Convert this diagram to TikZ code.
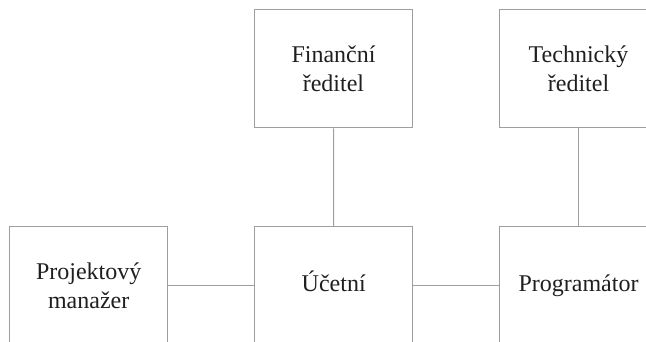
\documentclass[tikz,border=0pt]{standalone}
\usepackage{fontspec}
\newfontfamily\timesx{Liberation Serif}
\begin{document}
\begin{tikzpicture}[x=1pt,y=-1pt,
  box/.style={draw=black!38, line width=0.9pt, minimum width=158pt, minimum height=118pt,
    align=center, font=\timesx\fontsize{24}{29}\selectfont, text=black!88, inner sep=0pt},
  oneline/.style={text height=17pt, text depth=5pt},
  link/.style={draw=black!38, line width=0.9pt}]
\clip (0,0) rectangle (646,341);
\node[box] (fin)  at (333.5,68.8)  {Finanční\\ředitel};
\node[box] (tech) at (578.5,68.8)  {Technický\\ředitel};
\node[box] (proj) at (88.7,285.7)  {Projektový\\manažer};
\node[box,oneline] (ucet) at (333.7,285.7) {Účetní};
\node[box,oneline] (prog) at (578.5,285.7) {Programátor};
\draw[link] (fin) -- (ucet);
\draw[link] (tech) -- (prog);
\draw[link] (proj) -- (ucet);
\draw[link] (ucet) -- (prog);
\end{tikzpicture}
\end{document}
